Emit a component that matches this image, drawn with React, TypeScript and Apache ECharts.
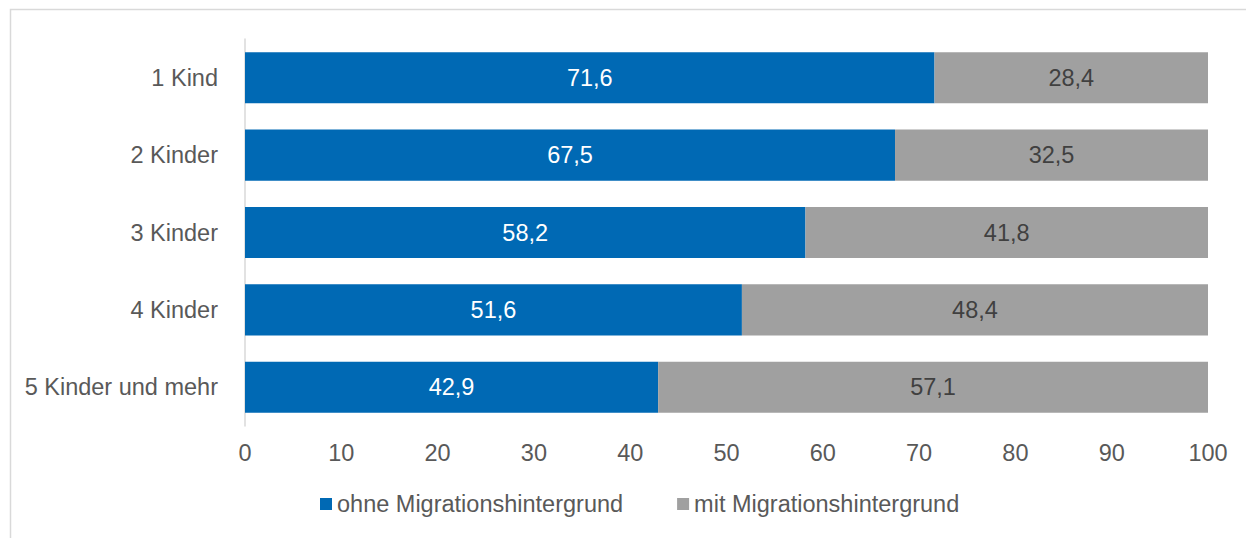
import React, { useEffect, useRef } from "react";
import * as echarts from "echarts";

const categories = ["1 Kind", "2 Kinder", "3 Kinder", "4 Kinder", "5 Kinder und mehr"];
const ohneMigration = [71.6, 67.5, 58.2, 51.6, 42.9];
const mitMigration = [28.4, 32.5, 41.8, 48.4, 57.1];
const seriesNames = ["ohne Migrationshintergrund", "mit Migrationshintergrund"];

const FONT = "'Liberation Sans', Arial, sans-serif";
const TEXT = "#595959";
const FS = 23.5;

const fmt = (p: any) => String(p.value).replace(".", ",");

export default function App() {
  const ref = useRef<HTMLDivElement>(null);
  useEffect(() => {
    if (!ref.current) return;
    const chart = echarts.init(ref.current, undefined, { renderer: "svg" });
    chart.setOption({
      animation: false,
      textStyle: { fontFamily: FONT },
      graphic: [
        {
          type: "rect",
          shape: { x: 10.5, y: 9.5, width: 1400, height: 700 },
          style: { fill: "none", stroke: "#d9d9d9", lineWidth: 1.5 },
          silent: true,
        },
      ],
      grid: { left: 245, right: 38, top: 39, bottom: 112, containLabel: false },
      legend: {
        left: 315,
        top: 487,
        itemWidth: 12,
        itemHeight: 12,
        itemGap: 54,
        icon: "rect",
        textStyle: { fontSize: FS, color: TEXT, fontFamily: FONT },
        data: seriesNames,
      },
      xAxis: {
        type: "value",
        min: 0,
        max: 100,
        interval: 10,
        axisLine: { show: false },
        axisTick: { show: false },
        splitLine: { show: false },
        axisLabel: { fontSize: FS, color: TEXT, margin: 15, fontFamily: FONT },
      },
      yAxis: {
        type: "category",
        inverse: true,
        data: categories,
        axisLine: { show: true, lineStyle: { color: "#d9d9d9", width: 1.5 } },
        axisTick: { show: false },
        axisLabel: { fontSize: FS, color: TEXT, margin: 27, fontFamily: FONT },
      },
      series: [
        {
          name: seriesNames[0],
          type: "bar",
          stack: "total",
          data: ohneMigration,
          barCategoryGap: "34%",
          itemStyle: { color: "#0069B4" },
          label: {
            show: true,
            position: "inside",
            color: "#ffffff",
            fontSize: FS,
            fontFamily: FONT,
            formatter: fmt,
          },
        },
        {
          name: seriesNames[1],
          type: "bar",
          stack: "total",
          data: mitMigration,
          barCategoryGap: "34%",
          itemStyle: { color: "#A0A0A0" },
          label: {
            show: true,
            position: "inside",
            color: "#404040",
            fontSize: FS,
            fontFamily: FONT,
            formatter: fmt,
          },
        },
      ],
    });
    return () => chart.dispose();
  }, []);
  return (
    <div
      ref={ref}
      style={{ position: "fixed", left: 0, top: 0, width: 1246, height: 538, background: "#ffffff" }}
    />
  );
}
